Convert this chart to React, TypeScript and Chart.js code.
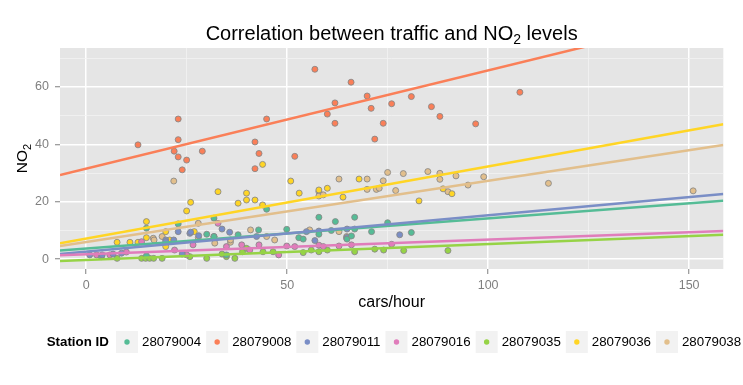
import React, { useEffect, useRef } from 'react';
import { Chart, registerables } from 'chart.js';
Chart.register(...registerables);

const stationIds = ['28079004', '28079008', '28079011', '28079016', '28079035', '28079036', '28079038'];
const stationColors = ['#55BC96', '#FA7F58', '#7A8EC6', '#E07DBB', '#96D346', '#FFD525', '#E2BF8C'];

const cars004 = [15, 15, 22.9, 30, 31.8, 31.8, 34.9, 37.8, 42.9, 44.9, 49.9, 52.9, 54, 57.9, 57.9, 61, 62, 64.9, 66, 66.8, 66.8, 71, 75, 80.9];
const no2_004 = [10.8, 1.2, 12.3, 8.7, 14.3, 7.9, 1.5, 8.5, 10.2, 17.4, 10.4, 7.5, 7, 14.6, 8.7, 10, 13.1, 7, 8.1, 14.6, 10.5, 9.6, 12.7, 9.3];

const cars008 = [12.9, 21.9, 22.9, 22.9, 22.9, 23.9, 25, 28.9, 42, 42, 43, 44.9, 51.9, 56.9, 60, 61.9, 61.9, 65.9, 69.9, 70.9, 71.8, 73.9, 76, 80.9, 85.9, 88, 96.9, 107.9];
const no2_008 = [39.8, 37.6, 48.8, 41.6, 35.6, 31.1, 34.5, 37.6, 40.8, 31.5, 36.8, 48.8, 35.8, 66.1, 50.5, 54.4, 47.3, 61.6, 56.8, 52.5, 41.8, 47.3, 54.1, 56.6, 53.1, 49.7, 47.1, 58.1];

const cars011 = [0.9, 3.8, 4, 6.7, 8.8, 19.8, 19.8, 21.8, 22.9, 23.9, 25.8, 26, 28, 31.8, 33.8, 35.7, 42.4, 54.8, 56.9, 57.9, 64.8, 64.9, 64.9, 78];
const no2_011 = [1.5, 0.9, 1.5, 1.8, 2.1, 6.7, 6.1, 6.7, 9.6, 1.8, 9, 9.4, 8.2, 7.9, 10.5, 9.4, 7.9, 9.6, 6.5, 9.8, 7.3, 10.5, 7.6, 8.5];

const cars016 = [2.6, 5.9, 10, 13.8, 22, 25, 26.6, 32.8, 34.9, 38.7, 40.7, 43, 47.9, 49.9, 51.9, 57.9, 59, 62.9, 66, 76];
const no2_016 = [1.5, 1.5, 2.5, 6.1, 3.2, 1.5, 5, 12.5, 4.4, 5, 3.2, 5, 1.5, 4.6, 4.4, 4.9, 4.4, 4.6, 5, 5.2];

const cars035 = [7.7, 13.8, 14.8, 15.8, 16.8, 18.9, 25.8, 30, 33.8, 34.9, 37, 38.9, 39.9, 44, 46.5, 54, 56, 57.9, 60, 66.8, 71.8, 74, 79, 90];
const no2_035 = [0.3, 0.3, 0.3, 0.3, 0.3, 0.3, 0.9, 0.3, 1.8, 0.9, 0.3, 2.6, 3.8, 2.6, 2.6, 2.3, 3.2, 2.6, 3.2, 2.6, 3.5, 3.2, 3, 3];

const cars036 = [7.7, 10.9, 12.9, 15, 15, 19.8, 19.8, 20.8, 25, 26, 26.9, 32.8, 37.8, 39.9, 39.9, 42, 43.9, 43.9, 50.9, 53, 57.9, 60, 63.9, 67.9, 82.8, 88.8, 91];
const no2_036 = [5.9, 5.9, 5.9, 13.1, 7.5, 9.6, 4.4, 6.7, 16.8, 19.8, 9.6, 23.5, 19.5, 23, 20.6, 20.6, 33, 18.9, 27.2, 23, 24.1, 24.7, 21.6, 27.9, 20.3, 24.5, 22.8];

const cars038 = [16.7, 16.9, 18.9, 21.8, 27.9, 27.9, 31.8, 32, 35.9, 35.9, 40.9, 44.9, 46.9, 55.6, 57.9, 57.9, 59, 62.9, 62.9, 64.8, 69.9, 69.9, 72.2, 72.9, 73.9, 75, 77, 78.9, 85, 88, 88, 90, 92, 95, 98.9, 115, 151];
const no2_038 = [7.3, 6.7, 7.9, 27.2, 12.5, 7.5, 7.7, 5.6, 5.9, 6.7, 10.2, 7.9, 6.7, 10.2, 23.5, 22, 22.4, 27.9, 9.6, 7.9, 27.9, 24.3, 24.3, 24.7, 27.3, 30.2, 23.9, 29.8, 30.5, 29.9, 27.8, 23.5, 29, 25.8, 28.7, 26.4, 23.8];

const stationCars = [cars004, cars008, cars011, cars016, cars035, cars036, cars038];
const stationNo2 = [no2_004, no2_008, no2_011, no2_016, no2_035, no2_036, no2_038];

// fitted regression lines
const lineIntercepts = [3.7, 31.5, 2.6, 1.73, -0.24, 7.2, 6.0];
const lineSlopes = [0.105, 0.342, 0.127, 0.051, 0.055, 0.251, 0.213];

const xLimits = [-6.5, 158.5];
const yLimits = [-3.4, 73.5];
const xMajorTicks = [0, 50, 100, 150];
const xMinorTicks = [25, 75, 125];
const yMajorTicks = [0, 20, 40, 60];
const yMinorTicks = [10, 30, 50, 70];

const FONT = '"Liberation Sans", Arial, Helvetica, sans-serif';

const decorPlugin = {
  id: 'decor',
  beforeDraw(chart: any) {
    const { ctx, chartArea } = chart;
    ctx.save();
    ctx.fillStyle = '#FFFFFF';
    ctx.fillRect(0, 0, chart.width, chart.height);
    ctx.fillStyle = '#E5E5E5';
    ctx.fillRect(chartArea.left, chartArea.top, chartArea.right - chartArea.left, chartArea.bottom - chartArea.top);
    ctx.restore();
  },
  afterDraw(chart: any) {
    const { ctx, chartArea } = chart;
    const cx = (chartArea.left + chartArea.right) / 2;
    const cy = (chartArea.top + chartArea.bottom) / 2;
    ctx.save();
    ctx.fillStyle = '#000000';
    ctx.textBaseline = 'alphabetic';
    ctx.textAlign = 'left';

    // title
    const tFont = `20px ${FONT}`;
    const sFont = `14px ${FONT}`;
    const p1 = 'Correlation between traffic and NO';
    const p2 = '2';
    const p3 = ' levels';
    ctx.font = tFont;
    const w1 = ctx.measureText(p1).width;
    const w3 = ctx.measureText(p3).width;
    ctx.font = sFont;
    const w2 = ctx.measureText(p2).width;
    let x = cx - (w1 + w2 + w3) / 2;
    const ty = 40;
    ctx.font = tFont;
    ctx.fillText(p1, x, ty);
    ctx.font = sFont;
    ctx.fillText(p2, x + w1, ty + 4);
    ctx.font = tFont;
    ctx.fillText(p3, x + w1 + w2, ty);

    // x axis title
    ctx.font = `16px ${FONT}`;
    ctx.textAlign = 'center';
    ctx.fillText('cars/hour', cx, 307);

    // y axis title
    ctx.save();
    ctx.translate(27, cy);
    ctx.rotate(-Math.PI / 2);
    ctx.textAlign = 'left';
    ctx.font = `15.5px ${FONT}`;
    const nw = ctx.measureText('NO').width;
    ctx.font = `11px ${FONT}`;
    const sw = ctx.measureText('2').width;
    const sx = -(nw + sw) / 2;
    ctx.font = `15.5px ${FONT}`;
    ctx.fillText('NO', sx, 0);
    ctx.font = `11px ${FONT}`;
    ctx.fillText('2', sx + nw, 3.5);
    ctx.restore();

    // legend
    const ly = 342;
    ctx.textBaseline = 'middle';
    ctx.textAlign = 'left';
    ctx.font = `bold 13.3px ${FONT}`;
    ctx.fillText('Station ID', 46.7, ly);
    let bx = 116;
    const bs = 22;
    ctx.font = `13.3px ${FONT}`;
    stationIds.forEach((id, i) => {
      ctx.fillStyle = '#F2F2F2';
      ctx.fillRect(bx, ly - bs / 2, bs, bs);
      ctx.beginPath();
      ctx.arc(bx + bs / 2, ly, 2.7, 0, Math.PI * 2);
      ctx.fillStyle = stationColors[i];
      ctx.fill();
      ctx.fillStyle = '#000000';
      const lx = bx + bs + 4;
      ctx.fillText(id, lx, ly);
      bx = lx + ctx.measureText(id).width + 5;
    });
    ctx.restore();
  },
};

export default function App() {
  const ref = useRef<HTMLCanvasElement | null>(null);
  useEffect(() => {
    if (!ref.current) return;
    const pointSets = stationIds.map((id, i) => ({
      label: id,
      data: stationCars[i].map((c, j) => ({ x: c, y: stationNo2[i][j] })),
      backgroundColor: stationColors[i],
      borderColor: 'rgba(135,135,135,0.85)',
      pointRadius: 3,
      pointBorderWidth: 1,
      showLine: false,
      order: 1,
    }));
    const lineSets = stationIds.map((id, i) => ({
      label: id + ' fit',
      data: xLimits.map((xv) => ({ x: xv, y: lineIntercepts[i] + lineSlopes[i] * xv })),
      borderColor: stationColors[i],
      borderWidth: 2.5,
      pointRadius: 0,
      showLine: true,
      fill: false,
      order: 0,
    }));
    const isMajorX = (v: number) => xMajorTicks.includes(v);
    const isMajorY = (v: number) => yMajorTicks.includes(v);
    const chart = new Chart(ref.current, {
      type: 'scatter',
      data: { datasets: [...lineSets.slice().reverse(), ...pointSets] as any },
      plugins: [decorPlugin],
      options: {
        animation: false,
        responsive: false,
        devicePixelRatio: 1,
        layout: { padding: { left: 0, top: 48, right: 19.7, bottom: 86 } },
        plugins: { legend: { display: false }, title: { display: false }, tooltip: { enabled: false } },
        scales: {
          x: {
            type: 'linear',
            min: xLimits[0],
            max: xLimits[1],
            afterBuildTicks: (scale: any) => {
              scale.ticks = [...xMajorTicks, ...xMinorTicks].sort((a, b) => a - b).map((v) => ({ value: v }));
            },
            afterFit: (scale: any) => { scale.height = 30; },
            border: { display: false },
            grid: {
              color: (c: any) => (isMajorX(c.tick?.value) ? '#FFFFFF' : '#F2F2F2'),
              lineWidth: (c: any) => (isMajorX(c.tick?.value) ? 1.5 : 0.8),
              tickColor: (c: any) => (isMajorX(c.tick?.value) ? '#7F7F7F' : 'rgba(0,0,0,0)'),
              tickWidth: 1,
              tickLength: 5,
              drawTicks: true,
            },
            ticks: {
              autoSkip: false,
              maxRotation: 0,
              padding: 4,
              color: '#7F7F7F',
              font: { family: FONT, size: 12.5 },
              callback: (v: any) => (isMajorX(Number(v)) ? String(v) : ''),
            },
          },
          y: {
            type: 'linear',
            min: yLimits[0],
            max: yLimits[1],
            afterBuildTicks: (scale: any) => {
              scale.ticks = [...yMajorTicks, ...yMinorTicks].sort((a, b) => a - b).map((v) => ({ value: v }));
            },
            afterFit: (scale: any) => { scale.width = 60; },
            border: { display: false },
            grid: {
              color: (c: any) => (isMajorY(c.tick?.value) ? '#FFFFFF' : '#F2F2F2'),
              lineWidth: (c: any) => (isMajorY(c.tick?.value) ? 1.5 : 0.8),
              tickColor: (c: any) => (isMajorY(c.tick?.value) ? '#7F7F7F' : 'rgba(0,0,0,0)'),
              tickWidth: 1,
              tickLength: 5,
              drawTicks: true,
            },
            ticks: {
              autoSkip: false,
              padding: 6,
              color: '#7F7F7F',
              font: { family: FONT, size: 12.5 },
              callback: (v: any) => (isMajorY(Number(v)) ? String(v) : ''),
            },
          },
        },
      } as any,
    });
    return () => chart.destroy();
  }, []);
  return (
    <div style={{ position: 'fixed', left: 0, top: 0, width: 743, height: 385 }}>
      <canvas ref={ref} width={743} height={385} />
    </div>
  );
}
